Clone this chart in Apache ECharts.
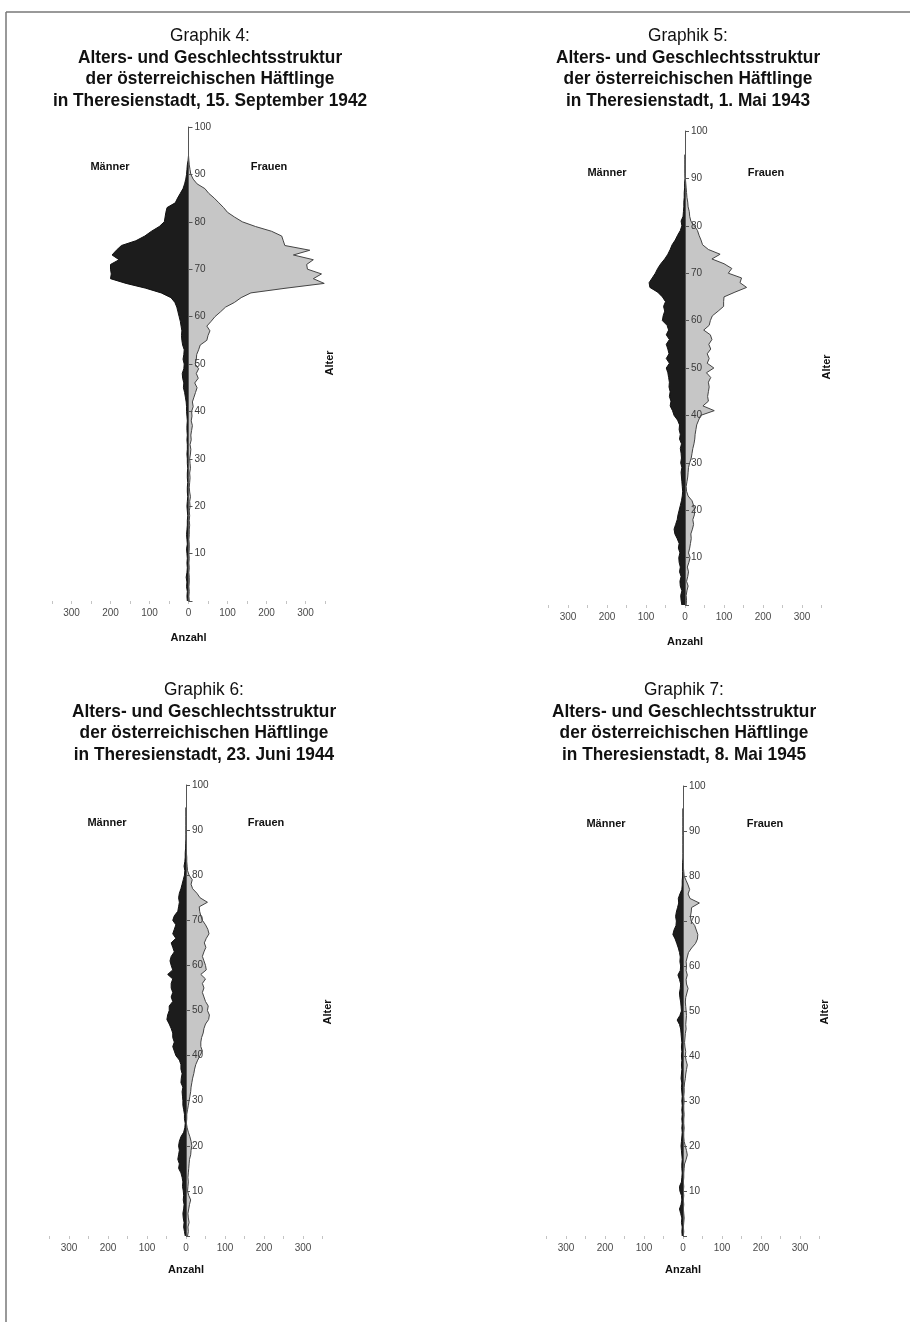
<!DOCTYPE html>
<html>
<head>
<meta charset="utf-8">
<script src="https://cdn.jsdelivr.net/npm/echarts@6/dist/echarts.min.js"></script>
<style>
html,body{margin:0;padding:0;background:#fff;}
#chart{width:910px;height:1322px;}
</style>
</head>
<body>
<div id="chart"></div>
<script>
// Age categories (0..100)
const ages = Array.from({length: 101}, (_, i) => String(i));
const ageTickLabels = ['10','20','30','40','50','60','70','80','90','100'];
const countTickLabels = ['300','200','100','0','100','200','300'];

const titles = [
  ['Graphik 4:', 'Alters- und Geschlechtsstruktur', 'der österreichischen Häftlinge', 'in Theresienstadt, 15. September 1942'],
  ['Graphik 5:', 'Alters- und Geschlechtsstruktur', 'der österreichischen Häftlinge', 'in Theresienstadt, 1. Mai 1943'],
  ['Graphik 6:', 'Alters- und Geschlechtsstruktur', 'der österreichischen Häftlinge', 'in Theresienstadt, 23. Juni 1944'],
  ['Graphik 7:', 'Alters- und Geschlechtsstruktur', 'der österreichischen Häftlinge', 'in Theresienstadt, 8. Mai 1945']
];

// Counts by age (index = age 0..95)
const men1942 = [3,4,3,5,4,6,4,3,4,3, 4,5,3,4,5,4,3,3,2,3, 4,3,2,3,3,2,3,3,2,3, 3,4,3,3,4,3,4,4,3,4,
  5,5,6,8,10,13,12,15,16,12, 11,14,12,11,15,17,18,17,19,21, 24,27,30,35,45,70,110,160,200,198,
  200,200,178,196,185,172,135,112,95,75, 62,60,58,55,34,28,21,14,10,7, 5,4,3,1,0,0];
const women1942 = [2,1,2,1,2,2,1,2,1,2, 1,2,2,1,2,2,3,2,3,2, 4,3,5,3,2,3,4,3,5,4, 3,5,6,4,7,6,8,10,7,9,
  8,12,10,14,18,22,16,25,20,26, 17,20,21,26,30,47,50,55,47,58, 68,82,95,118,135,160,250,348,320,341,
  305,303,320,269,311,247,243,239,213,172, 138,118,100,90,78,66,52,42,22,12, 6,4,2,1,0,0];

const men1943 = [8,10,11,8,12,13,10,14,12,15, 16,13,17,15,20,26,28,24,20,18, 15,12,9,7,6,7,8,9,10,8,
  11,9,10,12,9,14,12,15,14,19, 28,32,38,36,40,38,41,40,42,44, 48,40,48,41,44,48,40,48,42,46,
  58,56,52,55,50,58,70,90,92,84, 76,70,62,52,44,38,33,25,19,12, 8,10,5,4,3,3,2,2,1,1, 0,0,0,0,0,0];
const women1943 = [3,4,3,5,8,4,7,9,6,10, 13,9,12,14,16,15,19,22,20,24, 25,22,18,8,4,3,5,7,8,9,
  12,16,18,20,23,25,26,28,30,35, 40,75,46,60,58,60,62,60,66,55, 74,57,62,57,66,61,69,65,48,62,
  65,70,85,99,99,100,128,158,141,145, 111,120,100,69,90,60,45,41,36,32, 24,15,12,11,8,7,5,4,3,2, 1,0,0,0,0,0];

const men1944 = [2,4,6,5,7,8,6,5,7,6, 7,9,8,10,13,19,17,21,19,17, 19,17,13,6,3,2,4,4,6,8,
  8,9,10,8,13,12,10,13,13,17, 26,30,34,30,34,34,38,43,49,47, 43,43,34,38,34,38,38,34,47,34,
  38,41,38,30,34,38,26,34,30,26, 34,30,21,19,17,19,17,13,10,7, 4,3,5,3,2,2,1,1,0,0, 0,0,0,0,0,0];
const women1944 = [4,6,5,8,6,5,7,9,12,7, 4,5,6,5,6,7,8,9,12,13, 15,13,10,6,3,1,2,2,4,6,
  8,10,12,13,15,17,20,22,25,30, 36,42,38,38,40,44,46,50,58,60, 55,57,50,46,42,46,42,50,38,52,
  50,46,42,46,51,47,52,59,56,50, 42,38,35,34,55,36,28,17,13,16, 8,4,3,2,2,1,1,0,0,0, 0,0,0,0,0,0];

const men1945 = [2,3,2,4,3,6,9,5,3,4, 8,9,4,3,2,3,3,2,3,4, 5,4,3,2,3,2,3,2,3,2,
  3,2,3,4,3,5,4,3,4,3, 4,3,4,3,4,5,6,9,15,8, 4,5,6,8,9,7,6,9,13,7,
  6,8,7,9,12,16,20,26,23,18, 17,19,17,14,11,12,8,3,2,2, 1,1,1,1,0,0,0,0,0,0, 0,0,0,0,0,0];
const women1945 = [1,2,1,2,3,2,1,2,1,2, 1,2,1,2,2,3,4,8,11,9, 6,3,2,2,3,2,2,3,2,2,
  3,2,3,3,4,6,7,9,11,8, 6,7,5,4,5,6,8,7,8,9, 8,7,6,7,10,13,9,8,11,8,
  9,8,11,14,22,32,37,38,34,30, 21,19,21,22,42,18,13,17,13,8, 3,2,1,1,0,0,0,0,0,0, 0,0,0,0,0,0];

const panels = [
  {men: men1942, women: women1942, cx: 188.5, top: 127, h: 474, tx: 210, ty: 36, lab: [110, 167], alter: [330, 363]},
  {men: men1943, women: women1943, cx: 685, top: 131, h: 474, tx: 688, ty: 36, lab: [607, 173], alter: [827, 367]},
  {men: men1944, women: women1944, cx: 186, top: 785, h: 451, tx: 204, ty: 690, lab: [107, 823], alter: [328, 1012]},
  {men: men1945, women: women1945, cx: 683, top: 786, h: 450, tx: 684, ty: 690, lab: [606, 824], alter: [825, 1012]}
];

const W = 273; // width of -350..350
const grids = [], xAxes = [], yAxes = [], series = [], graphics = [];
const bodyFont = "'Liberation Sans',Arial,sans-serif";

panels.forEach((p, i) => {
  grids.push({left: p.cx - W / 2, width: W, top: p.top, height: p.h, containLabel: false});
  xAxes.push({
    type: 'value', gridIndex: i, min: -350, max: 350, interval: 50,
    axisLine: {show: false},
    axisTick: {show: true, length: 3, lineStyle: {color: '#c4c4c4'}},
    splitLine: {show: false},
    axisLabel: {
      color: '#4a4a4a', fontSize: 10, fontFamily: bodyFont, margin: 7,
      formatter: v => (v % 100 === 0 && countTickLabels.indexOf(String(Math.abs(v))) >= 0) ? String(Math.abs(v)) : ''
    },
    name: 'Anzahl', nameLocation: 'middle', nameGap: i < 2 ? 31 : 28,
    nameTextStyle: {fontWeight: 'bold', fontSize: 11, color: '#111', fontFamily: bodyFont}
  });
  yAxes.push({
    type: 'category', gridIndex: i, data: ages, boundaryGap: false, z: 10,
    position: 'left', offset: -W / 2,
    axisLine: {show: true, onZero: false, lineStyle: {color: '#555', width: 1}},
    axisTick: {show: true, inside: true, length: 4, interval: 9, lineStyle: {color: '#555'}},
    splitLine: {show: false},
    axisLabel: {
      inside: true, interval: 9, margin: 6, color: '#3a3a3a', fontSize: 10, fontFamily: bodyFont,
      formatter: v => ageTickLabels.indexOf(v) >= 0 ? v : ''
    }
  });
  series.push({
    type: 'line', xAxisIndex: i, yAxisIndex: i, showSymbol: false, silent: true,
    data: p.men.map(v => -v),
    lineStyle: {color: '#111', width: 1},
    areaStyle: {color: '#1c1c1c', opacity: 1}
  });
  series.push({
    type: 'line', xAxisIndex: i, yAxisIndex: i, showSymbol: false, silent: true,
    data: p.women.slice(),
    lineStyle: {color: '#444', width: 1},
    areaStyle: {color: '#c6c6c6', opacity: 1}
  });
  const t = titles[i];
  [0, 1, 2, 3].forEach(k => {
    graphics.push({
      type: 'text', x: p.tx, y: p.ty + k * 21.6, scaleX: 0.91,
      style: {text: t[k], fontFamily: bodyFont, fontSize: 19, fontWeight: k === 0 ? 'normal' : 'bold',
        fill: '#111', align: 'center', verticalAlign: 'middle'}
    });
  });
  graphics.push({type: 'text', x: p.lab[0], y: p.lab[1],
    style: {text: 'Männer', fontFamily: bodyFont, fontSize: 11, fontWeight: 'bold', fill: '#111', align: 'center', verticalAlign: 'middle'}});
  graphics.push({type: 'text', x: p.lab[0] + 159, y: p.lab[1],
    style: {text: 'Frauen', fontFamily: bodyFont, fontSize: 11, fontWeight: 'bold', fill: '#111', align: 'center', verticalAlign: 'middle'}});
  graphics.push({type: 'text', x: p.alter[0], y: p.alter[1], rotation: Math.PI / 2,
    style: {text: 'Alter', fontFamily: bodyFont, fontSize: 11, fontWeight: 'bold', fill: '#111', align: 'center', verticalAlign: 'middle'}});
});

// page frame
graphics.push({type: 'line', shape: {x1: 6, y1: 12, x2: 6, y2: 1322}, style: {stroke: '#777', lineWidth: 1.5}});
graphics.push({type: 'line', shape: {x1: 6, y1: 12, x2: 910, y2: 12}, style: {stroke: '#777', lineWidth: 1.5}});

const chart = echarts.init(document.getElementById('chart'), null, {renderer: 'canvas'});
chart.setOption({
  animation: false,
  backgroundColor: '#fff',
  grid: grids, xAxis: xAxes, yAxis: yAxes, series: series, graphic: graphics
});
</script>
</body>
</html>
